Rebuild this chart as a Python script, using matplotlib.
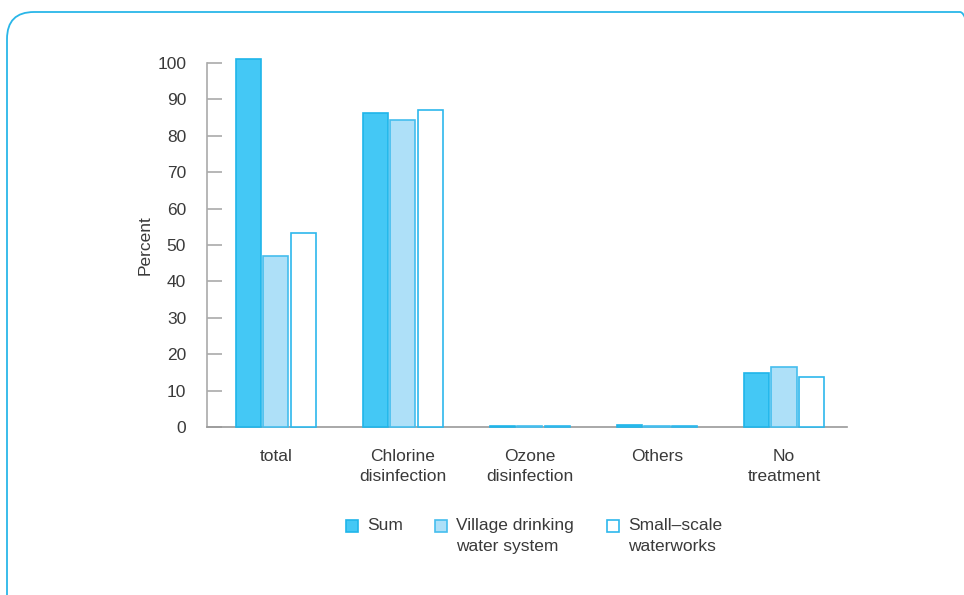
import matplotlib
matplotlib.use("Agg")
import matplotlib.pyplot as plt
import numpy as np
from matplotlib.patches import FancyBboxPatch, Rectangle

categories = ["total", "Chlorine\ndisinfection", "Ozone\ndisinfection", "Others", "No\ntreatment"]
series_names = ["Sum", "Village drinking\nwater system", "Small\u2013scale\nwaterworks"]
sum_vals = [101.0, 86.3, 0.3, 0.5, 14.8]
village_vals = [47.0, 84.3, 0.3, 0.4, 16.5]
small_vals = [53.3, 87.1, 0.3, 0.4, 13.7]
yticks = [0, 10, 20, 30, 40, 50, 60, 70, 80, 90, 100]

plt.rcParams['font.family'] = ['Liberation Sans', 'DejaVu Sans']
text_color = "#3a3a3a"
FS = 12.5

W, H = 964, 595
fig = plt.figure(figsize=(W / 100, H / 100), dpi=100)

# rounded border (continues past the right and bottom edges)
border = FancyBboxPatch((7 / W, -40 / H), 980 / W, (H - 12 + 40) / H,
                        boxstyle="round,pad=0,rounding_size=0.028",
                        transform=fig.transFigure, fill=False,
                        edgecolor="#29B6E8", linewidth=1.3, mutation_aspect=W / H)
fig.patches.append(border)

ax = fig.add_axes([207 / W, 1 - 427 / H, (847 - 207) / W, (427 - 63) / H])

fills = ["#44C8F5", "#AEE0F8", "#FFFFFF"]
edges = ["#1FB5EA", "#45BEEE", "#2DB8EC"]
x = np.arange(len(categories))
w = 0.197
off = 0.217
for i, vals in enumerate([sum_vals, village_vals, small_vals]):
    ax.bar(x + (i - 1) * off, vals, width=w, color=fills[i], edgecolor=edges[i],
           linewidth=1.2, clip_on=False, zorder=3)

ax.set_xlim(-0.543, 4.496)
ax.set_ylim(0, 100)
ax.set_yticks(yticks)
ax.set_yticklabels([str(v) for v in yticks], fontsize=FS, color=text_color)
ax.set_xticks(x)
ax.set_xticklabels(categories, fontsize=FS, color=text_color, linespacing=1.36)
ax.tick_params(axis='x', length=0, pad=16)
ax.tick_params(axis='y', direction='in', length=11, width=1.2, color="#aaaaaa", pad=15)
for s in ["top", "right"]:
    ax.spines[s].set_visible(False)
ax.spines["left"].set_color("#aaaaaa")
ax.spines["left"].set_linewidth(1.2)
ax.spines["bottom"].set_color("#999999")
ax.spines["bottom"].set_linewidth(1.2)
ax.set_ylabel("Percent", fontsize=FS, color=text_color, labelpad=3)

# legend drawn manually
leg_x = [346, 435, 607]
for i, name in enumerate(series_names):
    fig.patches.append(Rectangle((leg_x[i] / W, 1 - 532 / H), 12 / W, 12 / H,
                                 transform=fig.transFigure, facecolor=fills[i],
                                 edgecolor=edges[i], linewidth=1.2))
    fig.text((leg_x[i] + 21) / W, 1 - 518 / H, name, fontsize=FS, color=text_color,
             va='top', ha='left', linespacing=1.47)

fig.savefig("out.png", dpi=100)
